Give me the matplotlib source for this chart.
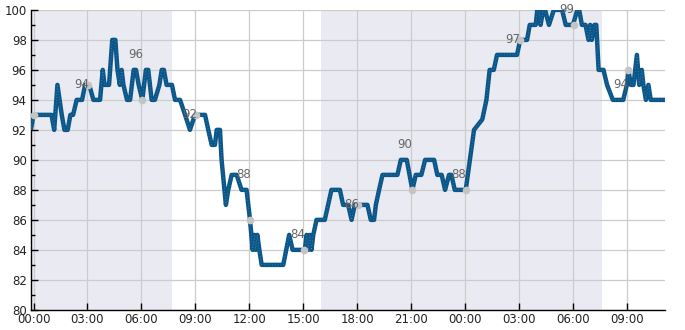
import matplotlib
matplotlib.use("Agg")
import matplotlib.pyplot as plt
from matplotlib.ticker import MultipleLocator, FixedLocator

# temperature trace, hours since midnight of first day
hours = [-0.15, 0.0, 1.0, 1.15, 1.33, 1.57, 1.72, 1.9, 2.05, 2.2, 2.4, 2.7, 2.87, 3.1,
         3.33, 3.7, 3.85, 3.95, 4.2, 4.38, 4.55, 4.67, 4.8, 4.9, 5.0, 5.2, 5.37, 5.57,
         5.7, 5.85, 6.05, 6.25, 6.38, 6.57, 6.75, 7.0, 7.13, 7.25, 7.4, 7.7, 7.87, 8.15,
         8.43, 8.7, 8.98, 9.54, 9.72, 9.91, 10.09, 10.19, 10.37, 10.46, 10.7, 10.83,
         11.02, 11.3, 11.57, 11.85, 12.04, 12.19, 12.28, 12.36, 12.45, 12.56, 12.69,
         13.89, 14.22, 14.41, 15.09, 15.19, 15.28, 15.37, 15.46, 15.56, 15.74, 16.2,
         16.57, 17.04, 17.22, 17.5, 17.69, 17.87, 18.57, 18.76, 18.94, 19.04, 19.22,
         19.41, 20.24, 20.43, 20.76, 21.07, 21.26, 21.57, 21.78, 22.28, 22.46, 22.7,
         22.89, 23.11, 23.24, 23.43, 24.04, 24.5, 24.96, 25.19, 25.37, 25.6, 25.78,
         26.89, 27.07, 27.45, 27.6, 27.93, 28.02, 28.12, 28.2, 28.35, 28.45, 28.67,
         28.94, 29.4, 29.6, 30.0, 30.25, 30.35, 30.5, 30.7, 30.87, 30.96, 31.05, 31.2,
         31.3, 31.43, 31.7, 31.9, 32.22, 32.8, 33.0, 33.09, 33.22, 33.37, 33.56, 33.69,
         33.83, 33.92, 34.06, 34.2, 34.33, 35.13]
temps = [92, 93, 93, 92, 95, 93, 92, 92, 93, 93, 94, 94, 95, 95,
         94, 94, 96, 95, 95, 98, 98, 96, 95, 96, 95, 94, 94, 96,
         96, 95, 94, 96, 96, 94, 94, 95, 96, 96, 95, 95, 94, 94,
         93, 92, 93, 93, 92, 91, 91, 92, 92, 90, 87, 88,
         89, 89, 88, 88, 86, 84, 85, 84, 85, 84, 83,
         83, 85, 84, 84, 85, 84, 85, 84, 85, 86, 86,
         88, 88, 87, 87, 86, 87, 87, 86, 86, 87, 88,
         89, 89, 90, 90, 88, 89, 89, 90, 90, 89, 89,
         88, 89, 89, 88, 88, 92, 92.7, 94, 96, 96, 97,
         97, 98, 98, 99, 99, 100, 100, 99, 100, 100, 99,
         100, 100, 99, 99, 100, 100, 99, 99, 98, 99, 98, 99,
         99, 96, 96, 95, 94, 94, 95, 96, 95, 95, 97, 95,
         96, 95, 94, 95, 94, 94]

# 3-hourly readings with their labels
mark_hours = [0.05, 3.05, 6.05, 9.05, 12.05, 15.05, 18.05, 21.05, 24.05, 27.05, 30.05, 33.05]
mark_vals = [93, 95, 94, 93, 86, 84, 87, 88, 88, 98, 99, 96]
mark_labels = ["", "94", "96", "92", "88", "84", "86", "90", "88", "97", "99", "94"]

# night periods (shaded)
nights = [(-0.15, 7.7), (16.0, 31.6)]

fig = plt.figure(figsize=(6.85, 3.3), dpi=100)
ax = fig.add_axes([0.045, 0.061, 0.926, 0.909])

for a, b in nights:
    ax.axvspan(a, b, color="#eaeaf2", lw=0, zorder=0)

ax.set_axisbelow(True)
ax.grid(True, which="major", color="#cccccc", lw=0.9, zorder=1)

ax.plot(hours, temps, color="#0b5688", lw=3.2, solid_joinstyle="round",
        solid_capstyle="butt", zorder=3)
ax.plot(hours, temps, color="#5f93bf", lw=0.5, ls=(0, (1, 3)), zorder=4)

ax.plot(mark_hours, mark_vals, "o", color="#c4c4c4", ms=5.5, mec="none", zorder=5)
for h, lbl in zip(mark_hours, mark_labels):
    if lbl:
        ax.text(h - 0.38, float(lbl) + 1, lbl, ha="center", va="center",
                fontsize=8.5, color="#666666", zorder=6, clip_on=False)

ax.set_xlim(-0.15, 35.13)
ax.set_ylim(80, 100)
ax.xaxis.set_major_locator(FixedLocator(list(range(0, 36, 3))))
ax.set_xticklabels([f"{h % 24:02d}:00" for h in range(0, 36, 3)])
ax.yaxis.set_major_locator(MultipleLocator(2))
ax.yaxis.set_minor_locator(MultipleLocator(1))

for s in ("top", "right"):
    ax.spines[s].set_visible(False)
for s in ("left", "bottom"):
    ax.spines[s].set_color("black")
    ax.spines[s].set_linewidth(1.0)

ax.tick_params(which="major", direction="in", length=5, width=1, labelsize=8.5,
               labelcolor="#222222", pad=3)
ax.tick_params(axis="x", pad=2)
ax.tick_params(which="minor", direction="in", length=3, width=1)

fig.savefig("out.png", dpi=100)
